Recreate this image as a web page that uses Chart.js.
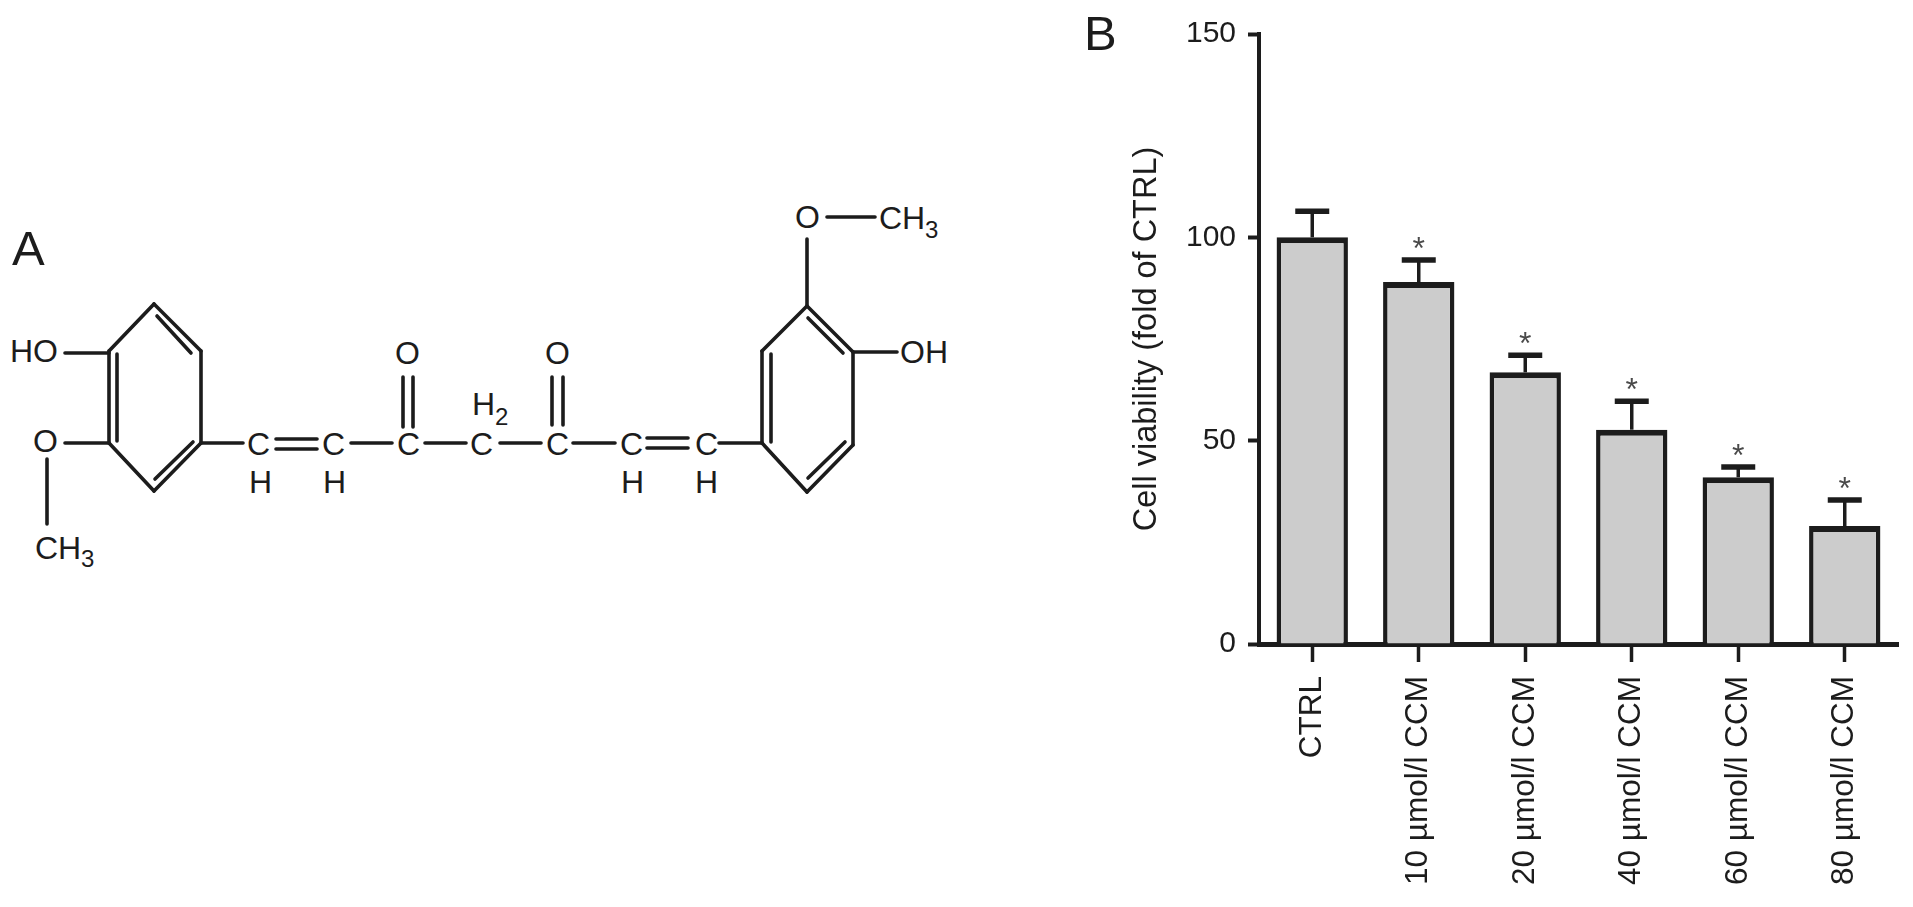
<!DOCTYPE html>
<html>
<head>
<meta charset="utf-8">
<title>Curcumin structure and cell viability</title>
<script src="https://cdn.jsdelivr.net/npm/chart.js@4"></script>
<style>
    html, body { margin: 0; padding: 0; background: #fff; overflow: hidden; }
    #panelA { position: absolute; left: 0; top: 0; }
    #panelA line { stroke: #1c1c1c; stroke-width: 3.6; stroke-linecap: round; }
    #panelA text { font-family: "Liberation Sans", Arial, sans-serif; font-size: 32px; fill: #1c1c1c; }
    #panelA text.tag { font-size: 49px; }
    #panelA text.sub { font-size: 24px; }
    #barChart { position: absolute; left: 1100px; top: 0; }
</style>
</head>
<body>
<svg id="panelA" width="1913" height="907" xmlns="http://www.w3.org/2000/svg">
    <text class="tag" x="12" y="265">A</text>
    <text class="tag" x="1084" y="50">B</text>

    <!-- left ring -->
    <line x1="154" y1="304" x2="201" y2="351"/><line x1="201" y1="351" x2="201" y2="443"/>
    <line x1="201" y1="443" x2="154" y2="491"/><line x1="154" y1="491" x2="109" y2="443"/>
    <line x1="109" y1="443" x2="109" y2="351"/><line x1="109" y1="351" x2="154" y2="304"/>
    <line x1="117" y1="354" x2="117" y2="441"/><line x1="157" y1="316" x2="191" y2="353"/>
    <line x1="155" y1="479" x2="193" y2="442"/>
    <line x1="65" y1="353" x2="109" y2="353"/><line x1="65" y1="443" x2="109" y2="443"/>
    <line x1="47" y1="459" x2="47" y2="524"/>
    <text x="10" y="362">HO</text><text x="33" y="452">O</text>
    <text x="35" y="559">CH</text><text class="sub" x="81" y="567">3</text>

    <!-- chain -->
    <line x1="201" y1="443" x2="243" y2="443"/>
    <line x1="276" y1="439" x2="317" y2="439"/><line x1="276" y1="449" x2="317" y2="449"/>
    <line x1="351" y1="443" x2="392" y2="443"/>
    <line x1="403" y1="377" x2="403" y2="427"/><line x1="413" y1="377" x2="413" y2="427"/>
    <line x1="425" y1="443" x2="466" y2="443"/><line x1="500" y1="443" x2="541" y2="443"/>
    <line x1="552" y1="377" x2="552" y2="425"/><line x1="563" y1="377" x2="563" y2="425"/>
    <line x1="573" y1="443" x2="615" y2="443"/>
    <line x1="647" y1="438" x2="688" y2="438"/><line x1="647" y1="448" x2="688" y2="448"/>
    <line x1="719" y1="443" x2="762" y2="443"/>
    <text x="247" y="455">C</text><text x="322" y="455">C</text><text x="397" y="455">C</text>
    <text x="470" y="455">C</text><text x="546" y="455">C</text><text x="620" y="455">C</text><text x="695" y="455">C</text>
    <text x="249" y="493">H</text><text x="323" y="493">H</text><text x="621" y="493">H</text><text x="695" y="493">H</text>
    <text x="395" y="364">O</text><text x="545" y="364">O</text>
    <text x="472" y="415">H</text><text class="sub" x="495" y="425">2</text>

    <!-- right ring -->
    <line x1="762" y1="443" x2="762" y2="351"/><line x1="762" y1="351" x2="807" y2="306"/>
    <line x1="807" y1="306" x2="853" y2="352"/><line x1="853" y1="352" x2="853" y2="445"/>
    <line x1="853" y1="445" x2="807" y2="492"/><line x1="807" y1="492" x2="762" y2="443"/>
    <line x1="771" y1="354" x2="771" y2="442"/><line x1="808" y1="318" x2="843" y2="353"/>
    <line x1="808" y1="478" x2="845" y2="442"/>
    <line x1="807" y1="239" x2="807" y2="306"/><line x1="827" y1="217" x2="875" y2="217"/>
    <line x1="853" y1="352" x2="897" y2="352"/>
    <text x="795" y="228">O</text><text x="879" y="229">CH</text><text class="sub" x="925" y="238">3</text>
    <text x="900" y="363">OH</text>
</svg>
<canvas id="barChart" width="813" height="907"></canvas>

<script>
const categories = ['CTRL', '10 µmol/l CCM', '20 µmol/l CCM', '40 µmol/l CCM', '60 µmol/l CCM', '80 µmol/l CCM'];
const viability = [100, 89, 66.8, 52.7, 41, 29];
const errorUp = [6.4, 5.4, 4.2, 7, 2.5, 6.4];
const significant = [false, true, true, true, true, true];
const yTicks = [0, 50, 100, 150];

const inkColor = '#1c1c1c';

const errorBarsPlugin = {
    id: 'errorBars',
    afterDatasetsDraw(chart) {
        const ctx = chart.ctx;
        const y = chart.scales.y;
        const bars = chart.getDatasetMeta(0).data;
        ctx.save();
        ctx.strokeStyle = inkColor;
        bars.forEach(function(bar, i) {
            const top = y.getPixelForValue(viability[i] + errorUp[i]);
            ctx.lineWidth = 3.5;
            ctx.beginPath();
            ctx.moveTo(bar.x, bar.y);
            ctx.lineTo(bar.x, top);
            ctx.stroke();
            ctx.lineWidth = 5.5;
            ctx.beginPath();
            ctx.moveTo(bar.x - 17, top);
            ctx.lineTo(bar.x + 17, top);
            ctx.stroke();
            if (significant[i]) {
                ctx.fillStyle = '#4a4a4a';
                ctx.font = '32px "Liberation Sans", Arial, sans-serif';
                ctx.textAlign = 'center';
                ctx.textBaseline = 'alphabetic';
                ctx.fillText('*', bar.x, top - 1);
            }
        });
        ctx.restore();
    }
};

new Chart(document.getElementById('barChart').getContext('2d'), {
    type: 'bar',
    data: {
        labels: categories,
        datasets: [{
            label: 'Cell viability',
            data: viability,
            backgroundColor: '#cccccc',
            borderColor: inkColor,
            borderWidth: { top: 6, left: 4.5, right: 4.5, bottom: 0 },
            barPercentage: 0.67,
            categoryPercentage: 1
        }]
    },
    options: {
        responsive: false,
        animation: false,
        layout: { padding: { top: 34, right: 15, bottom: 0, left: 0 } },
        plugins: {
            legend: { display: false },
            tooltip: { enabled: false }
        },
        scales: {
            x: {
                afterFit(scale) { scale.height = 263; },
                border: { color: inkColor, width: 5 },
                grid: { offset: false, drawOnChartArea: false, tickLength: 18, tickWidth: 3.5, tickColor: inkColor },
                ticks: {
                    autoSkip: false,
                    minRotation: 90,
                    maxRotation: 90,
                    padding: 14,
                    color: inkColor,
                    font: { family: '"Liberation Sans", Arial, sans-serif', size: 31.5 }
                }
            },
            y: {
                min: 0,
                max: 150,
                afterFit(scale) { scale.width = 159; },
                afterBuildTicks(scale) { scale.ticks = yTicks.map(function(v) { return { value: v }; }); },
                border: { color: inkColor, width: 4 },
                grid: { drawOnChartArea: false, tickLength: 11, tickWidth: 4, tickColor: inkColor },
                ticks: {
                    padding: 12,
                    color: inkColor,
                    font: { family: '"Liberation Sans", Arial, sans-serif', size: 30 }
                },
                title: {
                    display: true,
                    text: 'Cell viability (fold of CTRL)',
                    color: inkColor,
                    padding: { top: 28, bottom: 0 },
                    font: { family: '"Liberation Sans", Arial, sans-serif', size: 32.5 }
                }
            }
        }
    },
    plugins: [errorBarsPlugin]
});
</script>
</body>
</html>
